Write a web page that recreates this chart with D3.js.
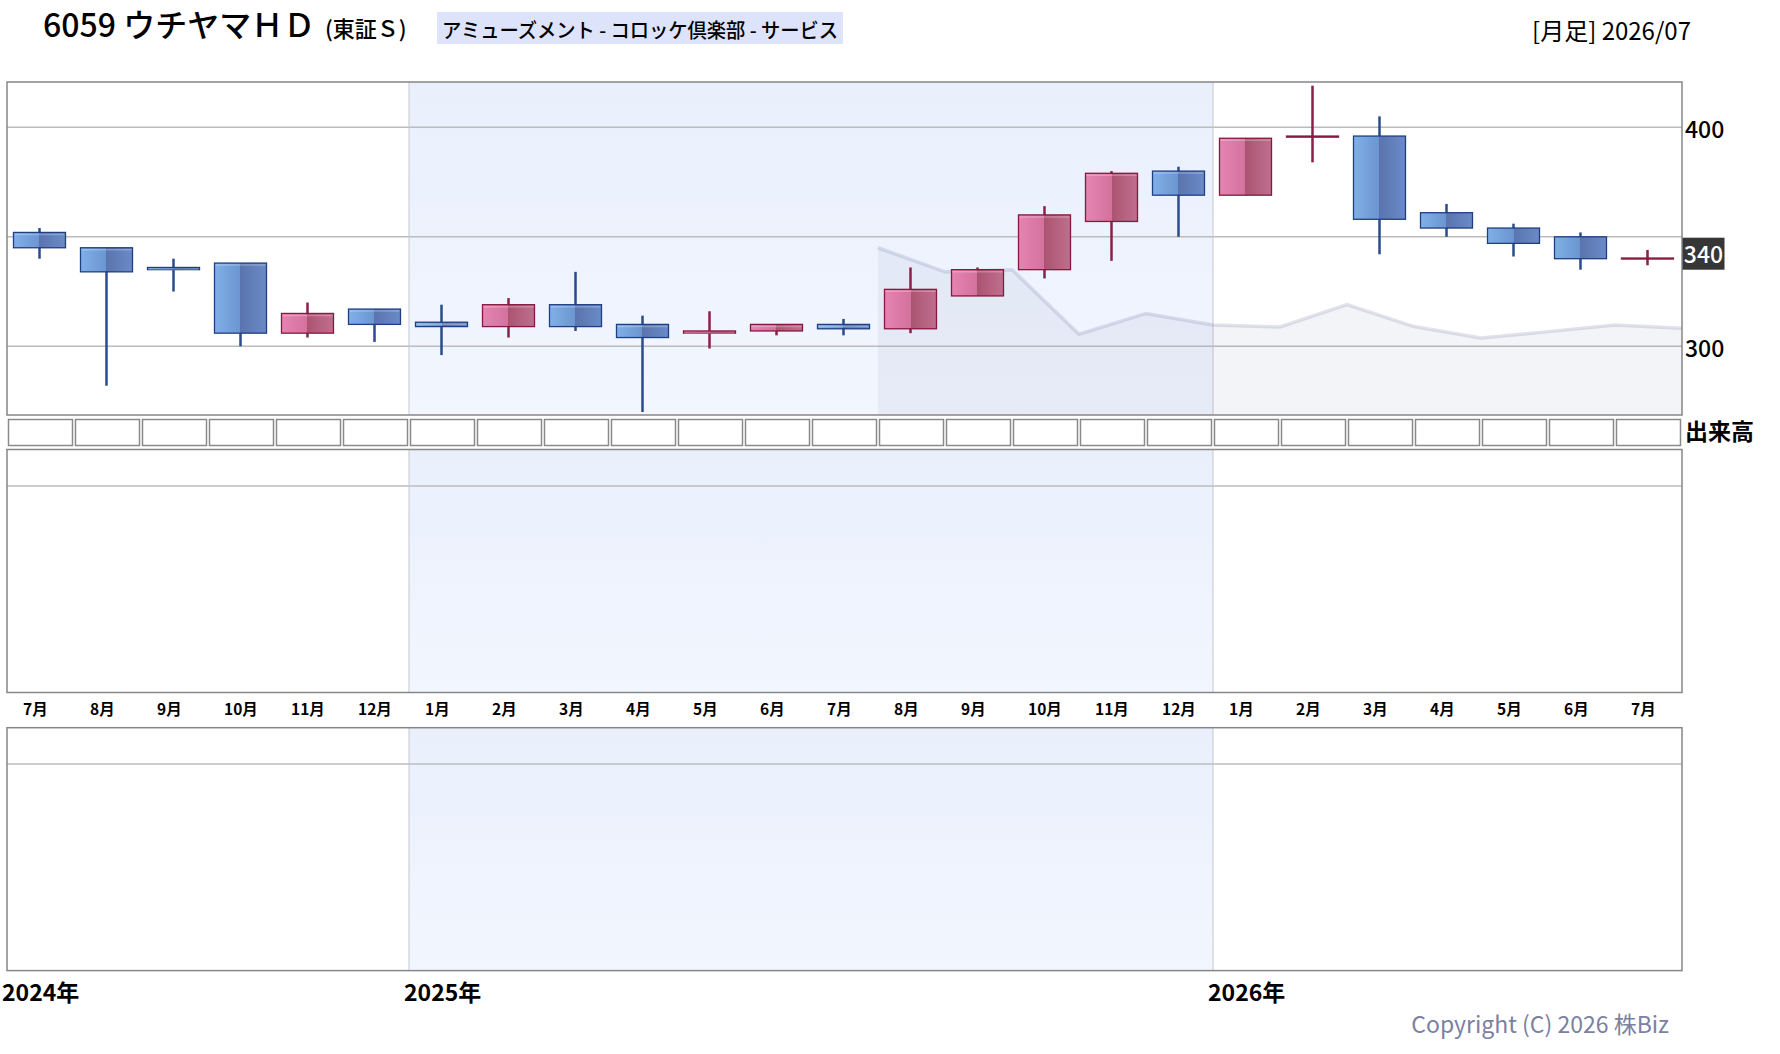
<!DOCTYPE html>
<html>
<head>
<meta charset="utf-8">
<script src="https://cdn.jsdelivr.net/npm/d3@7"></script>
<style>
body { margin: 0; background: #fff; }
text { font-family: "Noto Sans CJK JP", "Noto Sans", sans-serif; }
</style>
</head>
<body>
<script>
var w = 1780;
var h = 1054;

// data
var months = ["7月","8月","9月","10月","11月","12月","1月","2月","3月","4月","5月","6月",
              "7月","8月","9月","10月","11月","12月","1月","2月","3月","4月","5月","6月","7月"];
var yearLabels = ["2024年", "2025年", "2026年"];
var yearStart = [0, 6, 18];

var open  = [352, 345, 336, 338, 306, 317, 311, 309, 319, 310, 306, 307, 310,
             308, 323, 335, 357, 380, 369, 395.5, 396, 361, 354, 350, 340];
var close = [345, 334, 335, 306, 315, 310, 309, 319, 309, 304, 307, 310, 308,
             326, 335, 360, 379, 369, 395, 396, 358, 354, 347, 340, 340.3];
var high  = [354, 345, 340, 338, 320, 317, 319, 322, 334, 314, 316, 310, 312.5,
             336, 336, 364, 380, 382, 395, 419, 405, 365, 356, 352, 344];
var low   = [340, 282, 325, 300, 304, 302, 296, 304, 307, 270, 299, 305, 305,
             306, 323, 331, 339, 350, 369, 384, 342, 350, 341, 335, 337];

// grey shaded line, points sit on the month boundaries from 13 to 25
var shadeStart = 13;
var shadeVals = [345, 334, 335, 305.5, 315, 309.7, 308.8, 319, 309, 303.8, 306.7, 309.7, 308.2];

var gridVals = [300, 350, 400];
var tickVals = [300, 400];
var lastPrice = 340;

var left = 7, right = 1682;
var p1 = { top: 82, bottom: 415 };
var p2 = { top: 449.5, bottom: 692.5 };
var p3 = { top: 727.7, bottom: 970.6 };

var x = d3.scaleBand().domain(d3.range(months.length)).range([left, right]);
var xe = d3.scaleLinear().domain([0, months.length]).range([left, right]);
var y = d3.scaleLinear().domain([300, 400]).range([346.3, 127.3]);

var svg = d3.select("body")
    .append("svg")
    .attr("width", w)
    .attr("height", h);

svg.append("rect").attr("width", w).attr("height", h).attr("fill", "#fff");

var defs = svg.append("defs");

var bandGrad = defs.append("linearGradient").attr("id", "band")
    .attr("x1", 0).attr("y1", 0).attr("x2", 0).attr("y2", 1);
bandGrad.append("stop").attr("offset", "0%").attr("stop-color", "#e9f0fc");
bandGrad.append("stop").attr("offset", "100%").attr("stop-color", "#f2f6ff");

function bodyGrad(id, c) {
    var g = defs.append("linearGradient").attr("id", id)
        .attr("x1", 0).attr("y1", 0).attr("x2", 1).attr("y2", 0);
    g.append("stop").attr("offset", "0%").attr("stop-color", c[0]);
    g.append("stop").attr("offset", "50%").attr("stop-color", c[1]);
    g.append("stop").attr("offset", "50%").attr("stop-color", c[2]);
    g.append("stop").attr("offset", "100%").attr("stop-color", c[3]);
}
bodyGrad("blueBody", ["#80b0e8", "#6b95d0", "#5a74ae", "#6a8bc7"]);
bodyGrad("pinkBody", ["#e584b2", "#d4729e", "#ab5471", "#c06f8e"]);

defs.append("clipPath").attr("id", "clip1")
    .append("rect").attr("x", left).attr("y", p1.top)
    .attr("width", right - left).attr("height", p1.bottom - p1.top);

// panel background, 2025 band, grid lines
function panel(p, gridYs) {
    var g = svg.append("g");
    g.append("rect").attr("x", left).attr("y", p.top)
        .attr("width", right - left).attr("height", p.bottom - p.top)
        .attr("fill", "#fff");
    g.append("rect").attr("x", xe(yearStart[1])).attr("y", p.top)
        .attr("width", xe(yearStart[2]) - xe(yearStart[1])).attr("height", p.bottom - p.top)
        .attr("fill", "url(#band)");
    g.selectAll("line.grid").data(gridYs).enter().append("line")
        .attr("x1", left).attr("x2", right)
        .attr("y1", function(d) { return d; }).attr("y2", function(d) { return d; })
        .attr("stroke", "#bcbcbc").attr("stroke-width", 1.5);
    g.selectAll("line.yr").data([yearStart[1], yearStart[2]]).enter().append("line")
        .attr("x1", function(d) { return xe(d); }).attr("x2", function(d) { return xe(d); })
        .attr("y1", p.top).attr("y2", p.bottom)
        .attr("stroke", "#c4c7d2").attr("stroke-width", 1);
    return g;
}

panel(p1, gridVals.map(function(d) { return y(d); }));
panel(p2, [486]);
panel(p3, [764]);

// grey area
var shade = svg.append("g").attr("clip-path", "url(#clip1)");
var area = d3.area()
    .x(function(d, i) { return xe(shadeStart + i); })
    .y0(p1.bottom)
    .y1(function(d) { return y(d); });
var line = d3.line()
    .x(function(d, i) { return xe(shadeStart + i); })
    .y(function(d) { return y(d); });
shade.append("path").datum(shadeVals).attr("d", area)
    .attr("fill", "rgb(105,110,150)").attr("fill-opacity", 0.08);
shade.append("path").datum(shadeVals).attr("d", line)
    .attr("fill", "none").attr("stroke", "rgb(120,125,170)")
    .attr("stroke-opacity", 0.22).attr("stroke-width", 3.5);

// candles
var bw = 52;
var candles = svg.append("g").selectAll("g").data(months).enter().append("g");
candles.append("line")
    .attr("x1", function(d, i) { return x(i) + 32.5; })
    .attr("x2", function(d, i) { return x(i) + 32.5; })
    .attr("y1", function(d, i) { return y(high[i]); })
    .attr("y2", function(d, i) { return y(low[i]); })
    .attr("stroke", function(d, i) { return close[i] >= open[i] ? "#8a2049" : "#2a4b8d"; })
    .attr("stroke-width", 2.5);
candles.append("rect")
    .attr("x", function(d, i) { return x(i) + 32.5 - bw / 2; })
    .attr("y", function(d, i) { return y(Math.max(open[i], close[i])); })
    .attr("width", bw)
    .attr("height", function(d, i) { return Math.max(1, Math.abs(y(open[i]) - y(close[i]))); })
    .attr("fill", function(d, i) { return close[i] >= open[i] ? "url(#pinkBody)" : "url(#blueBody)"; })
    .attr("stroke", function(d, i) { return close[i] >= open[i] ? "#86193f" : "#203e82"; })
    .attr("stroke-width", 1.3);
candles.filter(function(d, i) { return Math.abs(y(open[i]) - y(close[i])) > 6; })
    .append("line")
    .attr("x1", function(d, i) { return x(i) + 32.5 - bw / 2 + 1; })
    .attr("x2", function(d, i) { return x(i) + 32.5 + bw / 2 - 1; })
    .attr("y1", function(d, i) { return y(Math.max(open[i], close[i])) + 2; })
    .attr("y2", function(d, i) { return y(Math.max(open[i], close[i])) + 2; })
    .attr("stroke", "#fff").attr("stroke-opacity", 0.25).attr("stroke-width", 1.5);

// panel borders
[p1, p2, p3].forEach(function(p) {
    svg.append("rect").attr("x", left).attr("y", p.top)
        .attr("width", right - left).attr("height", p.bottom - p.top)
        .attr("fill", "none").attr("stroke", "#878787").attr("stroke-width", 1.5);
});

// volume cells row
svg.append("g").selectAll("rect").data(months).enter().append("rect")
    .attr("x", function(d, i) { return x(i) + 1.5; })
    .attr("y", 419.5)
    .attr("width", x.bandwidth() - 3)
    .attr("height", 26)
    .attr("fill", "#fff")
    .attr("stroke", "#8a8a8a")
    .attr("stroke-width", 1.5);

// price labels
svg.selectAll("text.tick").data(tickVals).enter().append("text")
    .attr("x", 1685)
    .attr("y", function(d) { return y(d) + 1; })
    .attr("dominant-baseline", "central")
    .attr("font-size", 23)
    .attr("font-weight", 500)
    .attr("fill", "#000")
    .text(function(d) { return d; });

svg.append("rect").attr("x", 1682.5).attr("y", y(lastPrice) - 21)
    .attr("width", 42).attr("height", 32).attr("fill", "#363636");
svg.append("text").attr("x", 1703.5).attr("y", y(lastPrice) - 6)
    .attr("text-anchor", "middle").attr("dominant-baseline", "central")
    .attr("font-size", 23).attr("font-weight", 500).attr("fill", "#fff").text(lastPrice);

svg.append("text").attr("x", 1685).attr("y", 430)
    .attr("dominant-baseline", "central")
    .attr("font-size", 23).attr("font-weight", "bold").attr("fill", "#000")
    .text("出来高");

// month labels
svg.append("g").selectAll("text").data(months).enter().append("text")
    .attr("x", function(d, i) { return x(i) + 16; })
    .attr("y", 708)
    .attr("dominant-baseline", "central")
    .attr("font-size", 15.5)
    .attr("font-weight", "bold")
    .attr("fill", "#000")
    .text(function(d) { return d; });

// year labels
svg.append("g").selectAll("text").data(yearLabels).enter().append("text")
    .attr("x", function(d, i) { return xe(yearStart[i]) - 5; })
    .attr("y", 991)
    .attr("dominant-baseline", "central")
    .attr("font-size", 23)
    .attr("font-weight", "bold")
    .attr("fill", "#000")
    .text(function(d) { return d; });

// header
svg.append("text").attr("x", 43).attr("y", 37)
    .attr("font-size", 32).attr("font-weight", 500).attr("fill", "#000")
    .text("6059 ウチヤマＨＤ");
svg.append("text").attr("x", 325).attr("y", 37)
    .attr("font-size", 22).attr("font-weight", 500).attr("fill", "#000")
    .text("(東証Ｓ)");
svg.append("rect").attr("x", 437).attr("y", 12).attr("width", 406).attr("height", 32)
    .attr("fill", "#dce3fb");
svg.append("text").attr("x", 640).attr("y", 29)
    .attr("text-anchor", "middle").attr("dominant-baseline", "central")
    .attr("font-size", 20).attr("font-weight", 500).attr("fill", "#000")
    .attr("textLength", 396).attr("lengthAdjust", "spacingAndGlyphs")
    .text("アミューズメント - コロッケ倶楽部 - サービス");
svg.append("text").attr("x", 1691).attr("y", 29)
    .attr("text-anchor", "end").attr("dominant-baseline", "central")
    .attr("font-size", 24).attr("fill", "#000")
    .text("[月足] 2026/07");

svg.append("text").attr("x", 1669).attr("y", 1023)
    .attr("text-anchor", "end").attr("dominant-baseline", "central")
    .attr("font-size", 23).attr("fill", "#7b819f")
    .text("Copyright (C) 2026 株Biz");
</script>
</body>
</html>
